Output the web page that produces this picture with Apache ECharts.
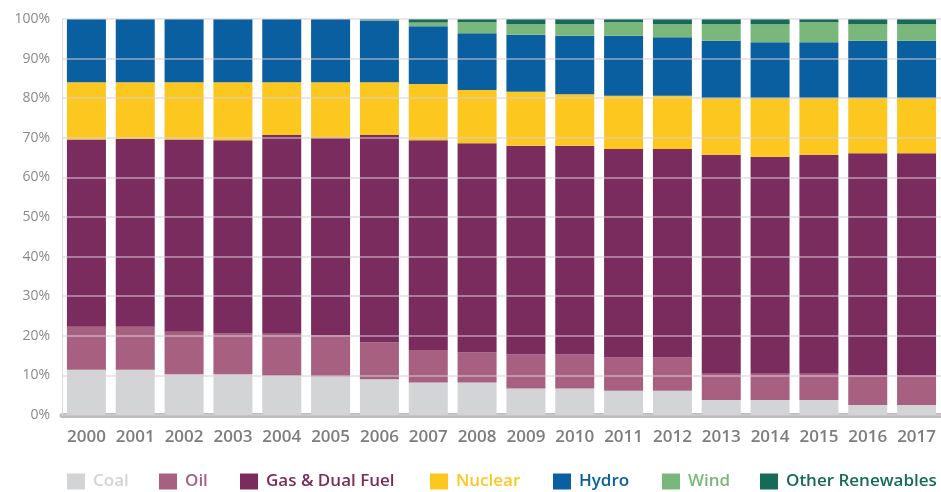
<!DOCTYPE html>
<html>
<head>
<meta charset="utf-8">
<script src="https://cdn.jsdelivr.net/npm/echarts@6/dist/echarts.min.js"></script>
<style>
  html, body { margin: 0; padding: 0; background: #fff; }
  #chart { width: 941px; height: 492px; }
</style>
</head>
<body>
<div id="chart"></div>
<script>
const years = ['2000', '2001', '2002', '2003', '2004', '2005', '2006', '2007', '2008',
  '2009', '2010', '2011', '2012', '2013', '2014', '2015', '2016', '2017'];

// share of generation, %
const coal = [11.4, 11.4, 10.3, 10.3, 9.9, 9.7, 9.0, 8.2, 8.2, 6.7, 6.7, 6.1, 6.1, 3.8, 3.8, 3.8, 2.5, 2.5];
const oil = [10.9, 10.9, 10.7, 10.3, 10.6, 10.5, 9.3, 8.2, 7.6, 8.6, 8.6, 8.4, 8.4, 6.6, 6.6, 6.6, 7.4, 7.4];
const gas = [47.3, 47.4, 48.6, 48.8, 50.2, 49.9, 52.4, 53.0, 52.8, 52.7, 52.7, 52.7, 52.7, 55.3, 54.8, 55.3, 56.2, 56.2];
const nuclear = [14.4, 14.3, 14.4, 14.6, 13.3, 13.9, 13.3, 14.2, 13.5, 13.6, 13.0, 13.4, 13.4, 14.3, 14.8, 14.3, 13.9, 13.9];
const hydro = [16.0, 16.0, 16.0, 16.0, 16.0, 16.0, 15.6, 14.6, 14.3, 14.4, 14.8, 15.2, 14.8, 14.5, 14.1, 14.1, 14.5, 14.5];
const wind = [0, 0, 0, 0, 0, 0, 0.2, 0.9, 2.8, 2.7, 2.9, 3.4, 3.3, 4.2, 4.6, 5.1, 4.2, 4.2];
const otherRenew = [0, 0, 0, 0, 0, 0, 0.2, 0.9, 0.8, 1.3, 1.3, 0.8, 1.3, 1.3, 1.3, 0.8, 1.3, 1.3];

const yTicks = [0, 10, 20, 30, 40, 50, 60, 70, 80, 90, 100];

const seriesDefs = [
  { name: 'Coal', data: coal, color: '#d2d4d5' },
  { name: 'Oil', data: oil, color: '#a7607f' },
  { name: 'Gas & Dual Fuel', data: gas, color: '#7a2c5e' },
  { name: 'Nuclear', data: nuclear, color: '#fcc820' },
  { name: 'Hydro', data: hydro, color: '#0a5fa0' },
  { name: 'Wind', data: wind, color: '#7ab77a' },
  { name: 'Other Renewables', data: otherRenew, color: '#156b56' },
];

// legend swatch x positions, matched to the original layout
const legendLeft = [67, 159, 240, 430, 553, 662, 760];

const chart = echarts.init(document.getElementById('chart'));

chart.setOption({
  animation: false,
  backgroundColor: '#fff',
  textStyle: { fontFamily: '"Open Sans", Roboto, sans-serif' },
  grid: { left: 62, right: 0, top: 19, bottom: 77 },
  legend: seriesDefs.map((s, i) => ({
    left: legendLeft[i],
    top: 473,
    padding: 0,
    itemWidth: 18,
    itemHeight: 16,
    icon: 'rect',
    selectedMode: false,
    textStyle: { fontSize: 17, fontWeight: 600, color: s.color, padding: [0, 0, 0, 3] },
    data: [s.name],
  })),
  xAxis: {
    type: 'category',
    data: years,
    offset: 2.5,
    axisLine: { lineStyle: { color: '#bdbdbd', width: 5 } },
    axisTick: { show: false },
    axisLabel: { color: '#7d7d7d', fontSize: 17, fontWeight: 600, margin: 11, interval: 0 },
  },
  yAxis: {
    type: 'value',
    min: yTicks[0],
    max: yTicks[yTicks.length - 1],
    interval: 10,
    z: 5,
    axisLine: { show: true, lineStyle: { color: '#dddddd', width: 1 } },
    axisTick: { show: false },
    axisLabel: { color: '#8a8a8a', fontSize: 14, margin: 12, formatter: '{value}%' },
    splitLine: { lineStyle: { color: 'rgba(215,205,215,0.5)', width: 2 } },
  },
  series: seriesDefs.map(s => ({
    name: s.name,
    type: 'bar',
    stack: 'total',
    barWidth: 39,
    data: s.data,
    itemStyle: { color: s.color },
  })),
});
</script>
</body>
</html>
